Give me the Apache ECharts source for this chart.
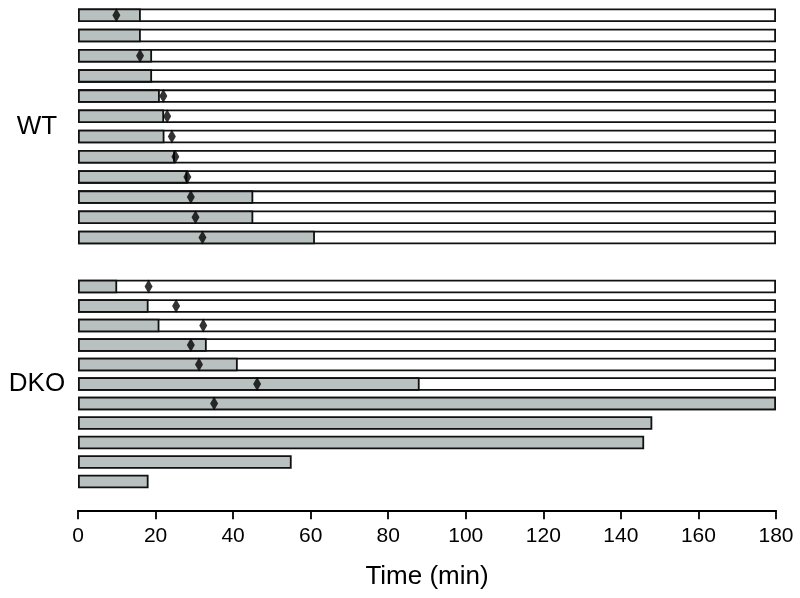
<!DOCTYPE html>
<html>
<head>
<meta charset="utf-8">
<script src="https://cdn.jsdelivr.net/npm/echarts@6/dist/echarts.min.js"></script>
<style>html,body{margin:0;padding:0;background:#fff}#c{width:800px;height:598px}</style>
</head>
<body>
<div id="c"></div>
<script>
// ---- data ----
const groups = ['WT', 'DKO'];
const wtRows = ['1','2','3','4','5','6','7','8','9','10','11','12'];
const wtTotal = [180,180,180,180,180,180,180,180,180,180,180,180];
const wtGray  = [16.2,16.2,19.1,19.1,21.1,22.2,22.3,25.0,28.2,45.2,45.2,61.1];
const wtMark  = [9.9,null,16.0,null,22.0,23.0,24.2,25.1,28.2,29.1,30.3,32.1];

const dkoRows = ['1','2','3','4','5','6','7','8','9','10','11'];
const dkoTotal = [180,180,180,180,180,180,180,null,null,null,null];
const dkoGray  = [10.1,18.2,21.0,33.2,41.2,88.1,180,148.1,146.0,55.1,18.2];
const dkoMark  = [18.2,25.3,32.3,29.1,31.2,46.2,35.1,null,null,null,null];

const xTicks = [0,20,40,60,80,100,120,140,160,180];
const xTitle = 'Time (min)';

// ---- styles ----
const FONT = '"Liberation Sans", Arial, Helvetica, sans-serif';
const GRAY = '#b8c1bf';
const EDGE = '#111';
const BARW = 13.5;

function pairs(arr){ return arr.map((v,i)=> v==null ? null : [v,i]).filter(Boolean); }

function yAx(gridIndex, rows, name){
  return {
    type:'category', gridIndex, data: rows, inverse:true,
    axisLine:{show:false}, axisTick:{show:false}, axisLabel:{show:false}, splitLine:{show:false},
    name, nameLocation:'middle', nameRotate:0, nameGap:41,
    nameTextStyle:{fontFamily:FONT, fontSize:26, color:'#000', align:'center', verticalAlign:'middle'}
  };
}

function barSeries(idx, total, gray, mark){
  return [
    {type:'bar', xAxisIndex:idx, yAxisIndex:idx, data: total, barWidth:BARW, barGap:'-100%',
     itemStyle:{color:'#fff', borderColor:EDGE, borderWidth:1.8}, silent:true, z:2},
    {type:'bar', xAxisIndex:idx, yAxisIndex:idx, data: gray, barWidth:BARW, barGap:'-100%',
     itemStyle:{color:GRAY, borderColor:EDGE, borderWidth:1.8}, silent:true, z:3},
    {type:'scatter', xAxisIndex:idx, yAxisIndex:idx, data: pairs(mark), symbol:'diamond',
     symbolSize:[8,14], itemStyle:{color:'#000'}, silent:true, z:5}
  ];
}

const chart = echarts.init(document.getElementById('c'), null, {renderer:'canvas'});
chart.setOption({
  animation:false,
  backgroundColor:'#fff',
  grid:[
    {left:78, right:24, top:5.2, height:242.4},
    {left:78, right:24, top:276.75, height:214.5}
  ],
  xAxis:[
    {type:'value', gridIndex:0, min:0, max:180, interval:20, show:false},
    {type:'value', gridIndex:1, min:0, max:180, interval:20, offset:19,
     axisLine:{show:true, onZero:false, lineStyle:{color:'#000', width:1.8}},
     axisTick:{show:true, inside:false, length:9, lineStyle:{color:'#000', width:1.8}},
     axisLabel:{fontFamily:FONT, fontSize:21, color:'#000', margin:15,
       formatter: v => xTicks.includes(v) ? String(v) : ''},
     splitLine:{show:false},
     name:xTitle, nameLocation:'middle', nameGap:54,
     nameTextStyle:{fontFamily:FONT, fontSize:26, color:'#000'}}
  ],
  yAxis:[ yAx(0, wtRows, groups[0]), yAx(1, dkoRows, groups[1]) ],
  series:[ ...barSeries(0, wtTotal, wtGray, wtMark), ...barSeries(1, dkoTotal, dkoGray, dkoMark) ]
});
</script>
</body>
</html>
